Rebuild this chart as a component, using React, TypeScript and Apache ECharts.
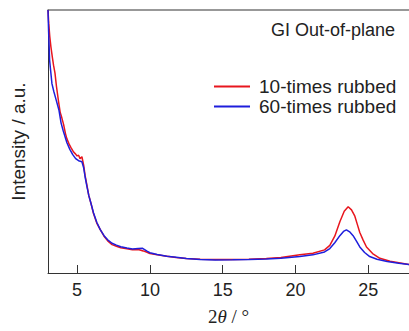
import React, { useEffect, useRef } from "react";
import * as echarts from "echarts";

const xTickValues = [5, 10, 15, 20, 25];

const red10X = [3.0, 3.05, 3.12, 3.2, 3.3, 3.38, 3.48, 3.58, 3.73, 3.84, 3.95, 4.07, 4.2, 4.3, 4.45, 4.6, 4.76, 4.9, 5.0, 5.1, 5.2, 5.33, 5.45, 5.55, 5.67, 5.8, 5.95, 6.13, 6.35, 6.59, 6.85, 7.1, 7.4, 7.7, 8.0, 8.42, 8.8, 9.2, 9.54, 9.8, 10.0, 10.5, 11.16, 11.8, 12.5, 13.45, 14.5, 15.7, 16.8, 18.0, 19.0, 20.3, 21.2, 22.0, 22.36, 22.7, 23.05, 23.35, 23.62, 23.85, 24.08, 24.25, 24.42, 24.65, 24.88, 25.3, 25.8, 26.5, 27.2, 27.8];
const red10Y = [100, 95, 90, 86, 82, 79, 76, 71, 65, 61, 59, 56.5, 53, 51, 49, 47.5, 46, 45.2, 44.5, 44.8, 43.5, 44.2, 41, 37, 33.5, 29.5, 26.5, 22.5, 19, 16.5, 14, 12.2, 10.8, 10.2, 9.6, 9.2, 8.8, 8.9, 8.4, 7.9, 7.4, 6.9, 6.4, 5.9, 5.5, 5.2, 5.1, 5.1, 5.2, 5.5, 5.9, 6.9, 7.5, 8.8, 10.5, 14, 19.5, 23.5, 25.2, 24, 21.6, 18.5, 15.4, 12.5, 9.9, 7.4, 5.6, 4.5, 3.8, 3.2];

const blue60X = [3.0, 3.04, 3.08, 3.11, 3.18, 3.27, 3.4, 3.55, 3.75, 3.9, 4.05, 4.3, 4.5, 4.7, 4.9, 5.1, 5.33, 5.45, 5.55, 5.67, 5.8, 5.95, 6.13, 6.35, 6.59, 6.85, 7.1, 7.4, 7.7, 8.0, 8.42, 8.8, 9.2, 9.5, 9.8, 10.0, 10.5, 11.16, 11.8, 12.5, 13.45, 14.5, 15.7, 16.8, 18.0, 19.0, 20.3, 21.2, 22.0, 22.36, 22.7, 23.05, 23.3, 23.5, 23.75, 23.96, 24.2, 24.42, 24.75, 25.1, 25.6, 26.3, 27.1, 27.8];
const blue60Y = [100, 92, 86, 81, 77, 72, 69, 66, 62, 57, 54, 49.5, 47, 45, 43.5, 42.7, 42.3, 40, 36.5, 33, 29.5, 26.5, 22.8, 19.3, 16.5, 14.2, 12.6, 11.3, 10.6, 10, 9.5, 9.1, 9.3, 9.4, 8.3, 7.7, 7.0, 6.4, 6.0, 5.5, 5.1, 4.9, 5.0, 5.1, 5.3, 5.6, 6.3, 6.9, 8.0, 9.3, 11.5, 14.2, 15.8, 16.4, 15.5, 14.2, 12, 9.9, 7.8, 6.25, 5.2, 4.4, 3.7, 3.2];

const seriesNames = ["10-times rubbed", "60-times rubbed"];
const titleText = "GI Out-of-plane";
const yName = "Intensity / a.u.";

const pair = (xs: number[], ys: number[]) => xs.map((x, i) => [x, ys[i]]);

export default function App() {
  const ref = useRef<HTMLDivElement>(null);
  useEffect(() => {
    if (!ref.current) return;
    const chart = echarts.init(ref.current, null, { renderer: "svg" });
    const font = "'Liberation Sans', Arial, sans-serif";
    const serif = "'Liberation Serif', 'Times New Roman', serif";
    chart.setOption({
      animation: false,
      backgroundColor: "#ffffff",
      title: {
        text: titleText,
        left: 271,
        top: 21,
        padding: 0,
        textStyle: { fontFamily: font, fontSize: 18, fontWeight: "normal", color: "#222" },
      },
      legend: {
        orient: "vertical",
        left: 214,
        top: 77,
        padding: 0,
        itemGap: 1,
        itemWidth: 36,
        itemHeight: 2,
        icon: "rect",
        data: seriesNames,
        textStyle: { fontFamily: font, fontSize: 19, color: "#222", padding: [0, 0, 0, 4] },
      },
      grid: { left: 48, right: 0, top: 10, bottom: 49 },
      xAxis: [
        {
          type: "value",
          min: 3,
          max: 27.8,
          axisLine: { show: true, lineStyle: { color: "#333", width: 1 } },
          axisTick: { show: true, inside: true, length: 8, customValues: xTickValues, lineStyle: { color: "#333" } },
          axisLabel: { customValues: xTickValues, fontFamily: font, fontSize: 18, color: "#222", margin: 8 },
          splitLine: { show: false },
          name: "{a|2}{b|θ}{a| / °}",
          nameLocation: "middle",
          nameGap: 34,
          nameTextStyle: {
            fontFamily: serif,
            fontSize: 19,
            color: "#222",
            rich: {
              a: { fontFamily: serif, fontSize: 19, color: "#222" },
              b: { fontFamily: serif, fontSize: 19, color: "#222", fontStyle: "italic" },
            },
          },
        },
        {
          type: "value",
          position: "top",
          min: 3,
          max: 27.8,
          axisLine: { show: true, onZero: false, lineStyle: { color: "#777", width: 1.5 } },
          axisTick: { show: false },
          axisLabel: { show: false },
          splitLine: { show: false },
        },
      ],
      yAxis: {
        type: "value",
        min: 0,
        max: 100,
        axisLine: { show: true, lineStyle: { color: "#333", width: 1 } },
        axisTick: { show: false },
        axisLabel: { show: false },
        splitLine: { show: false },
        name: yName,
        nameLocation: "middle",
        nameGap: 20,
        nameTextStyle: { fontFamily: font, fontSize: 19, color: "#222" },
      },
      series: [
        {
          name: seriesNames[0],
          type: "line",
          data: pair(red10X, red10Y),
          showSymbol: false,
          symbol: "none",
          lineStyle: { color: "#e8161e", width: 1.5 },
          itemStyle: { color: "#e8161e" },
        },
        {
          name: seriesNames[1],
          type: "line",
          data: pair(blue60X, blue60Y),
          showSymbol: false,
          symbol: "none",
          lineStyle: { color: "#1e1edc", width: 1.5 },
          itemStyle: { color: "#1e1edc" },
        },
      ],
    });
    return () => chart.dispose();
  }, []);
  return (
    <div style={{ position: "fixed", left: 0, top: 0, width: 409, height: 331, overflow: "hidden", background: "#fff" }}>
      <div ref={ref} style={{ width: 409, height: 331 }} />
    </div>
  );
}
